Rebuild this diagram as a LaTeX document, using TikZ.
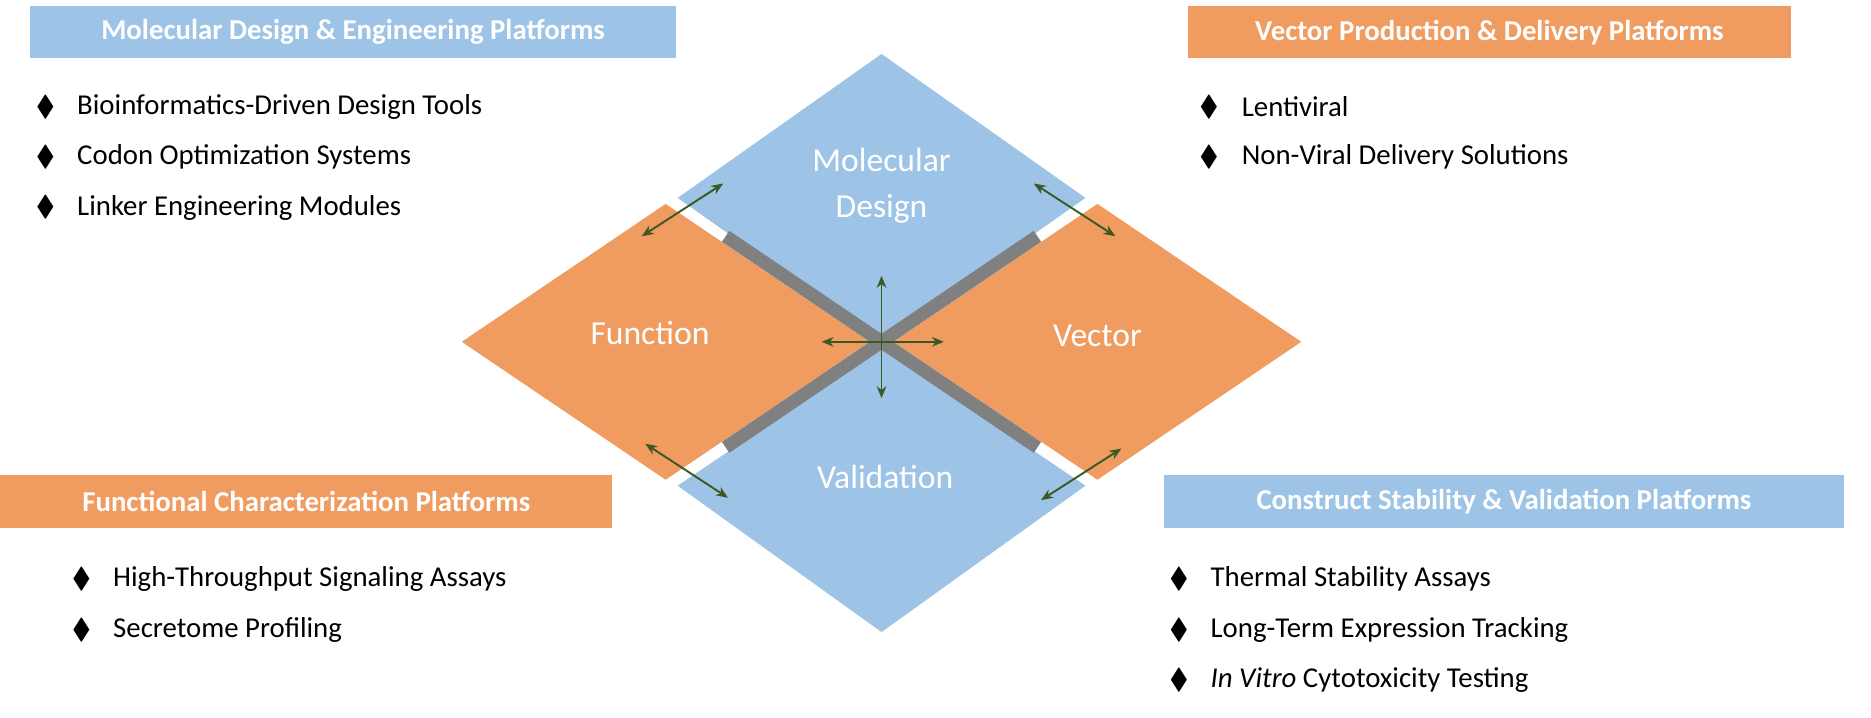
\documentclass[tikz,border=0pt]{standalone}
\usepackage{amssymb}
\usepackage{fontspec}
\setmainfont{Carlito}
\usetikzlibrary{arrows.meta}
\definecolor{dblue}{HTML}{9DC3E6}
\definecolor{dorange}{HTML}{F09C60}
\definecolor{dgreen}{HTML}{3A5A24}
\begin{document}
\begin{tikzpicture}[x=0.5pt,y=-0.5pt,
  lbl/.style={text=white,font=\fontsize{14}{17}\selectfont,align=center},
  hdr/.style={fill=#1,text=white,font=\bfseries\fontsize{12}{14}\selectfont,anchor=north west,inner sep=0pt},
  item/.style={anchor=west,font=\fontsize{12}{14}\selectfont,inner sep=0pt},
  bul/.style={font=\fontsize{12}{14}\selectfont,inner sep=0pt},
  garr/.style={dgreen,line width=0.8pt,{Stealth[length=5pt,width=4pt]}-{Stealth[length=5pt,width=4pt]}},
  bar/.style={draw=gray,line width=5.5pt}]
\useasboundingbox (0,0) rectangle (1560,598);
% diamonds
\fill[dblue] (735,45) -- (905,165) -- (735,285) -- (565,165) -- cycle;
\fill[dblue] (735,290) -- (905,405) -- (735,527) -- (565,405) -- cycle;
\fill[dorange] (555,170) -- (725,285) -- (555,400) -- (385,285) -- cycle;
\fill[dorange] (915,170) -- (1085,285) -- (915,400) -- (745,285) -- cycle;
% gray bars
\draw[bar] (605,197) -- (865,373);
\draw[bar] (605,373) -- (865,197);
% labels
\node[lbl] (md) at (735,155) {Molecular\\[2pt]Design};
\node[lbl] (fn) at (542,278) {Function};
\node[lbl] (vc) at (915,280) {Vector};
\node[lbl] (vl) at (738,398) {Validation};
% arrows
\coordinate (c1) at (735,230); \coordinate (c2) at (735,332);
\coordinate (c3) at (685,285); \coordinate (c4) at (787,285);
\draw[garr] (c1) -- (c2);
\draw[garr] (c3) -- (c4);
\coordinate (a1) at (535,197); \coordinate (a2) at (603,153);
\coordinate (b1) at (862,153); \coordinate (b2) at (930,197);
\coordinate (d1) at (538,370); \coordinate (d2) at (607,415);
\coordinate (e1) at (935,374); \coordinate (e2) at (868,417);
\draw[garr] (a1) -- (a2);
\draw[garr] (b1) -- (b2);
\draw[garr] (d1) -- (d2);
\draw[garr] (e1) -- (e2);
% headers
\node[hdr=dblue,minimum width=269pt,minimum height=21.5pt] (h1) at (25,5) {Molecular Design \& Engineering Platforms};
\node[hdr=dorange,minimum width=251.5pt,minimum height=21.5pt] (h2) at (990,5) {Vector Production \& Delivery Platforms};
\node[hdr=dorange,minimum width=255pt,minimum height=22pt] (h3) at (0,396) {Functional Characterization Platforms};
\node[hdr=dblue,minimum width=283.5pt,minimum height=22pt] (h4) at (970,396) {Construct Stability \& Validation Platforms};
% bullets
\foreach \y/\t [count=\i] in {89/Bioinformatics-Driven Design Tools,131/Codon Optimization Systems,173/Linker Engineering Modules}{
  \node[bul] (p\i) at (38,\y) {$\blacklozenge$};
  \node[item] (q\i) at (64,\y) {\t};}
\foreach \y/\t [count=\i] in {89/Lentiviral/AAV Packaging Systems,131/Non-Viral Delivery Solutions}{
  \node[bul] (r\i) at (1008,\y) {$\blacklozenge$};
  \node[item] (s\i) at (1035,\y) {\t};}
\foreach \y/\t [count=\i] in {483/High-Throughput Signaling Assays,525/Secretome Profiling}{
  \node[bul] (u\i) at (68,\y) {$\blacklozenge$};
  \node[item] (v\i) at (94,\y) {\t};}
\foreach \y/\t [count=\i] in {483/Thermal Stability Assays,525/Long-Term Expression Tracking,567/{\itshape In Vitro} Cytotoxicity Testing}{
  \node[bul] (w\i) at (983,\y) {$\blacklozenge$};
  \node[item] (z\i) at (1009,\y) {\t};}
\end{tikzpicture}
\end{document}
